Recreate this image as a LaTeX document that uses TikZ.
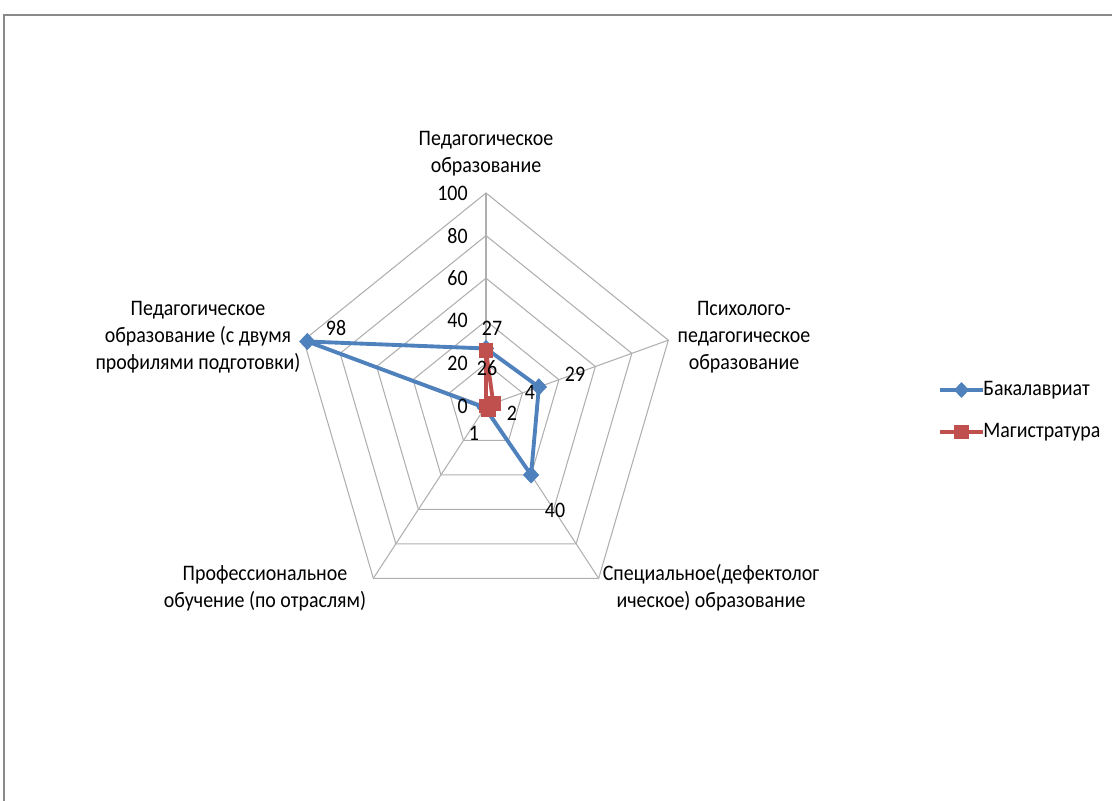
\documentclass[tikz,border=0pt]{standalone}
\usepackage{fontspec}
\setmainfont{Carlito}[FakeStretch=0.9]
\usetikzlibrary{shapes.geometric, calc}

\definecolor{bakblue}{RGB}{79,129,189}
\definecolor{magred}{RGB}{192,80,77}
\definecolor{gridgray}{RGB}{175,175,175}
\definecolor{framegray}{RGB}{137,137,137}

\begin{document}
\begin{tikzpicture}[x=0.02cm, y=0.02cm, font=\fontsize{12.6}{15.3}\selectfont]
    \tikzstyle{grid}=[draw=gridgray, line width=0.6pt]
    \tikzstyle{axislabel}=[align=center, inner sep=0pt]
    \tikzstyle{bak}=[draw=bakblue, line width=2.2pt, line join=round]
    \tikzstyle{mag}=[draw=magred, line width=2.2pt, line join=round]
    \tikzstyle{bakmark}=[diamond, fill=bakblue, minimum width=9.5pt, minimum height=10pt, inner sep=0pt]
    \tikzstyle{magmark}=[rectangle, fill=magred, minimum size=8.3pt, inner sep=0pt]

    \useasboundingbox (0,0) rectangle (1112,-801);
    \draw[framegray, line width=1.1pt] (4,-801) -- (4,-15) -- (1112,-15);

    \begin{scope}[shift={(486,-406)}, xscale=0.9]
        \coordinate (o) at (0,0);
        % grid
        \foreach \r in {1,...,5}
            \draw[grid] (90:{\r*42.6}) -- (18:{\r*42.6}) -- (-54:{\r*42.6})
                -- (-126:{\r*42.6}) -- (162:{\r*42.6}) -- cycle;
        \foreach \a/\n in {90/ax_0, 18/ax_1, -54/ax_2, -126/ax_3, 162/ax_4}
            \draw[grid] (o) -- (\a:213) coordinate (\n);

        % Bakalavriat
        \coordinate (b_0) at (90:{0.27*213});
        \coordinate (b_1) at (18:{0.29*213});
        \coordinate (b_2) at (-54:{0.40*213});
        \coordinate (b_3) at (-126:{0.01*213});
        \coordinate (b_4) at (162:{0.98*213});
        % Magistratura
        \coordinate (m_0) at (90:{0.26*213});
        \coordinate (m_1) at (18:{0.04*213});
        \coordinate (m_2) at (-54:{0.02*213});
        \coordinate (m_3) at (o);
        \coordinate (m_4) at (o);
    \end{scope}

    \draw[bak] (b_0) -- (b_1) -- (b_2) -- (b_3) -- (b_4) -- cycle;
    \foreach \i in {0,...,4} \node[bakmark] at (b_\i) {};
    \draw[mag] (m_0) -- (m_1) -- (m_2) -- (m_3) -- (m_4) -- cycle;
    \foreach \i in {0,...,4} \node[magmark] at (m_\i) {};

    % scale
    \foreach \v [count=\k from 0] in {0,20,...,100}
        \node[anchor=east, inner sep=0pt] (t_\k) at (468,{-406+2.13*\v}) {\v};

    % values
    \node (l_b0) at (492,-328) {27};
    \node (l_b1) at (575,-374) {29};
    \node (l_b2) at (555,-510) {40};
    \node (l_b3) at (474,-433) {1};
    \node (l_b4) at (336,-328) {98};
    \node (l_m0) at (487,-368) {26};
    \node (l_m1) at (530,-392) {4};
    \node (l_m2) at (512,-413) {2};

    % axis names
    \node[axislabel] (n_0) at (486,-154) {Педагогическое\\образование};
    \node[axislabel] (n_1) at (744,-337) {Психолого-\\педагогическое\\образование};
    \node[axislabel] (n_2) at (711,-588) {Специальное(дефектолог\\ическое) образование};
    \node[axislabel] (n_3) at (265,-588) {Профессиональное\\обучение (по отраслям)};
    \node[axislabel] (n_4) at (198,-337) {Педагогическое\\образование (с двумя\\профилями подготовки)};

    % legend
    \node[anchor=west, inner sep=0pt] (leg_b) at (983,-390) {Бакалавриат};
    \node[anchor=west, inner sep=0pt] (leg_m) at (983,-432) {Магистратура};
    \coordinate (lb) at (940,-390);
    \coordinate (lm) at (940,-432);
    \draw[bak] (lb) -- (leg_b.west) node[bakmark, midway] {};
    \draw[mag] (lm) -- (leg_m.west) node[magmark, midway] {};
\end{tikzpicture}
\end{document}
